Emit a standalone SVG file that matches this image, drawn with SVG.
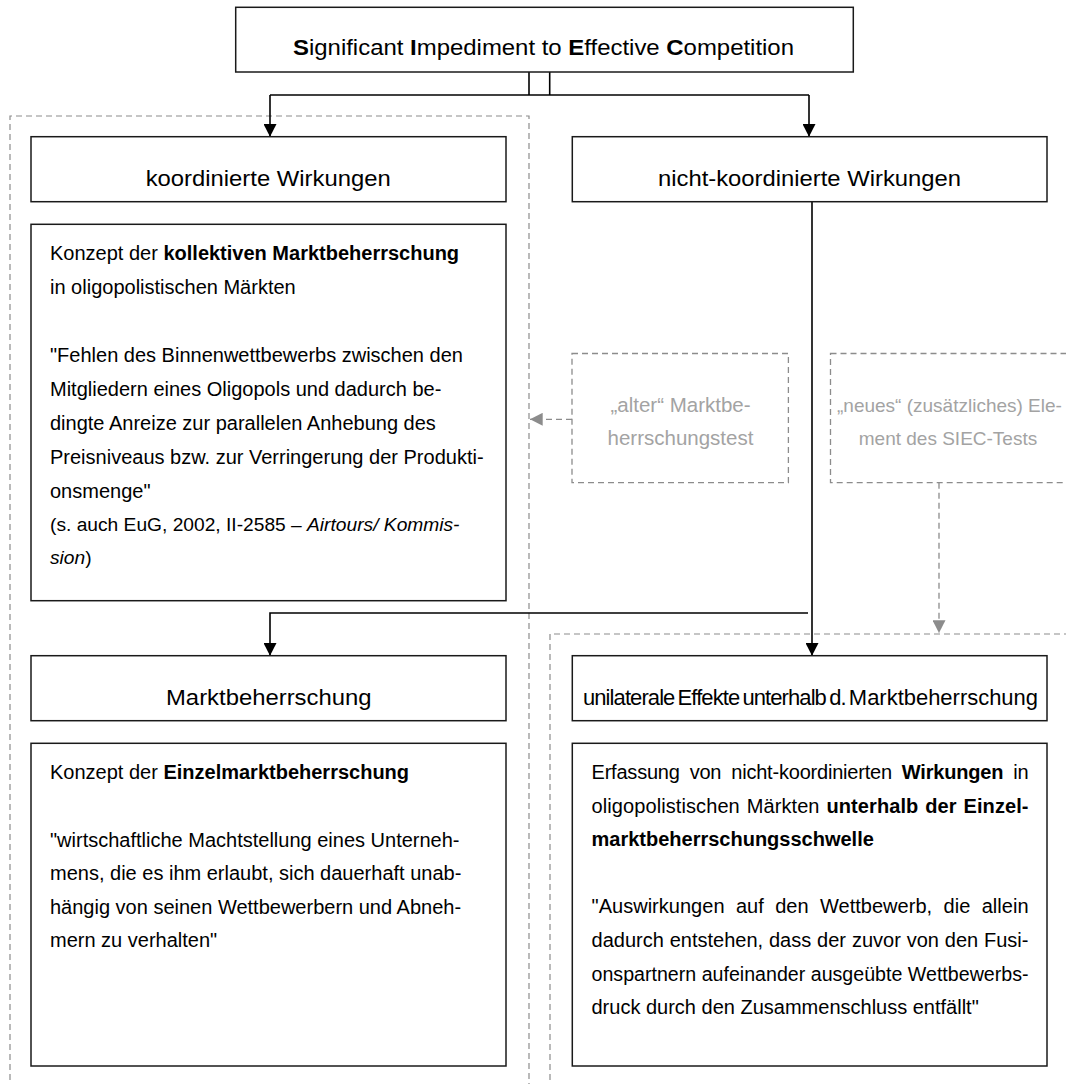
<svg xmlns="http://www.w3.org/2000/svg" width="1066" height="1084" viewBox="0 0 1066 1084">
<style>
.box{fill:#fff;stroke:#1a1a1a;stroke-width:1.5}
.dbox{fill:none;stroke:#8c8c8c;stroke-width:1.3;stroke-dasharray:6 4}
.grp{fill:none;stroke:#8c8c8c;stroke-width:1.2;stroke-dasharray:6 4}
text{font-family:'Liberation Sans',Arial,Helvetica,sans-serif;fill:#000}
.title{font-size:22px}
.body{font-size:20px}
.small{font-size:19.2px}
.gray{font-size:20.5px;fill:#a3a3a3}
.gray2{font-size:19px;fill:#a3a3a3}
.b{font-weight:bold}
.i{font-style:italic}
.conn{fill:none;stroke:#000;stroke-width:1.6}
.gconn{fill:none;stroke:#8c8c8c;stroke-width:1.3;stroke-dasharray:6 4}
</style>
<defs>
<marker id="ah" viewBox="0 0 12.7 13" refX="12.7" refY="6.5" markerWidth="12.7" markerHeight="13" markerUnits="userSpaceOnUse" orient="auto">
<path d="M0,0 L12.7,6.5 L0,13 z" fill="#000"/>
</marker>
<marker id="gah" viewBox="0 0 12.7 13" refX="12.7" refY="6.5" markerWidth="12.7" markerHeight="13" markerUnits="userSpaceOnUse" orient="auto">
<path d="M0,0 L12.7,6.5 L0,13 z" fill="#8c8c8c"/>
</marker>
</defs>
<rect width="1066" height="1084" fill="#fff"/>

<g id="groups">
<path class="grp" d="M10,1090 V116 H529 V1090"/>
<path class="grp" d="M550,1090 V634 H1070"/>
</g>

<g id="connectors">
<path class="conn" d="M529,72 V95"/>
<path class="conn" d="M549.7,72 V95"/>
<path class="conn" d="M270,95 H809"/>
<path class="conn" d="M270,95 V136.7" marker-end="url(#ah)"/>
<path class="conn" d="M809,95 V136.7" marker-end="url(#ah)"/>
<path class="conn" d="M812,201.7 V655.7" marker-end="url(#ah)"/>
<path class="conn" d="M808,613 H270 V655.7" marker-end="url(#ah)"/>
<path class="gconn" d="M572,419.3 H530" marker-end="url(#gah)"/>
<path class="gconn" d="M939,482.7 V633" marker-end="url(#gah)"/>
</g>

<g id="siec">
<rect class="box" x="235.7" y="7.3" width="617.6" height="64.7"/>
<text class="title" x="293" y="55" textLength="501" lengthAdjust="spacingAndGlyphs"><tspan class="b">S</tspan>ignificant <tspan class="b">I</tspan>mpediment to <tspan class="b">E</tspan>ffective <tspan class="b">C</tspan>ompetition</text>
</g>

<g id="koordinierte">
<rect class="box" x="31" y="136.7" width="475" height="65"/>
<text class="title" x="145.7" y="186" textLength="245" lengthAdjust="spacingAndGlyphs">koordinierte Wirkungen</text>
</g>

<g id="nicht-koordinierte">
<rect class="box" x="572.3" y="136.7" width="474.7" height="65"/>
<text class="title" x="658" y="186" textLength="303" lengthAdjust="spacingAndGlyphs">nicht-koordinierte Wirkungen</text>
</g>

<g id="kollektive">
<rect class="box" x="31" y="224.3" width="475" height="376.4"/>
<text class="body" x="50" y="260">Konzept der <tspan class="b">kollektiven Marktbeherrschung</tspan></text>
<text class="body" x="50" y="294">in oligopolistischen Märkten</text>
<text class="body" x="50" y="362">"Fehlen des Binnenwettbewerbs zwischen den</text>
<text class="body" x="50" y="396">Mitgliedern eines Oligopols und dadurch be-</text>
<text class="body" x="50" y="430">dingte Anreize zur parallelen Anhebung des</text>
<text class="body" x="50" y="464">Preisniveaus bzw. zur Verringerung der Produkti-</text>
<text class="body" x="50" y="497.5">onsmenge"</text>
<text class="small" x="50" y="531">(s. auch EuG, 2002, II-2585 – <tspan class="i">Airtours/ Kommis-</tspan></text>
<text class="small" x="50" y="564"><tspan class="i">sion</tspan>)</text>
</g>

<g id="alter">
<rect class="dbox" x="572" y="353.5" width="216.4" height="129.2"/>
<text class="gray" x="680.5" y="411.7" text-anchor="middle">„alter“ Marktbe-</text>
<text class="gray" x="680.5" y="445" text-anchor="middle">herrschungstest</text>
</g>

<g id="neues">
<rect class="dbox" x="830.5" y="353.5" width="236.5" height="129.2"/>
<text class="gray2" x="837" y="411.7">„neues“ (zusätzliches) Ele-</text>
<text class="gray2" x="948" y="445" text-anchor="middle">ment des SIEC-Tests</text>
</g>

<g id="marktbeherrschung">
<rect class="box" x="31" y="655.7" width="475" height="65"/>
<text class="title" x="166" y="704.5" textLength="205.5" lengthAdjust="spacingAndGlyphs">Marktbeherrschung</text>
</g>

<g id="unilaterale">
<rect class="box" x="572.3" y="655.7" width="474.7" height="65"/>
<text class="title" x="583" y="704.5" textLength="455" lengthAdjust="spacingAndGlyphs"><tspan letter-spacing="-0.9" word-spacing="-2">unilaterale Effekte unterhalb d. </tspan>Marktbeherrschung</text>
</g>

<g id="einzel">
<rect class="box" x="31" y="743.3" width="475" height="322.7"/>
<text class="body" x="50" y="779">Konzept der <tspan class="b">Einzelmarktbeherrschung</tspan></text>
<text class="body" x="50" y="846.5">"wirtschaftliche Machtstellung eines Unterneh-</text>
<text class="body" x="50" y="880">mens, die es ihm erlaubt, sich dauerhaft unab-</text>
<text class="body" x="50" y="913.5">hängig von seinen Wettbewerbern und Abneh-</text>
<text class="body" x="50" y="947">mern zu verhalten"</text>
</g>

<g id="erfassung">
<rect class="box" x="572.3" y="743.3" width="474.7" height="322.7"/>
<text class="body" x="591.5" y="779" word-spacing="4.6" textLength="437" lengthAdjust="spacing">Erfassung von nicht-koordinierten <tspan class="b">Wirkungen</tspan> in</text>
<text class="body" x="591.5" y="812.6" word-spacing="1.2" textLength="437" lengthAdjust="spacing">oligopolistischen Märkten <tspan class="b">unterhalb der Einzel-</tspan></text>
<text class="body b" x="591.5" y="846.2">marktbeherrschungsschwelle</text>
<text class="body" x="591.5" y="913.4" word-spacing="5.8" textLength="437" lengthAdjust="spacing">"Auswirkungen auf den Wettbewerb, die allein</text>
<text class="body" x="591.5" y="947" word-spacing="0.3" textLength="437" lengthAdjust="spacing">dadurch entstehen, dass der zuvor von den Fusi-</text>
<text class="body" x="591.5" y="980.6" textLength="437" lengthAdjust="spacingAndGlyphs">onspartnern aufeinander ausgeübte Wettbewerbs-</text>
<text class="body" x="591.5" y="1014.2">druck durch den Zusammenschluss entfällt"</text>
</g>
</svg>
